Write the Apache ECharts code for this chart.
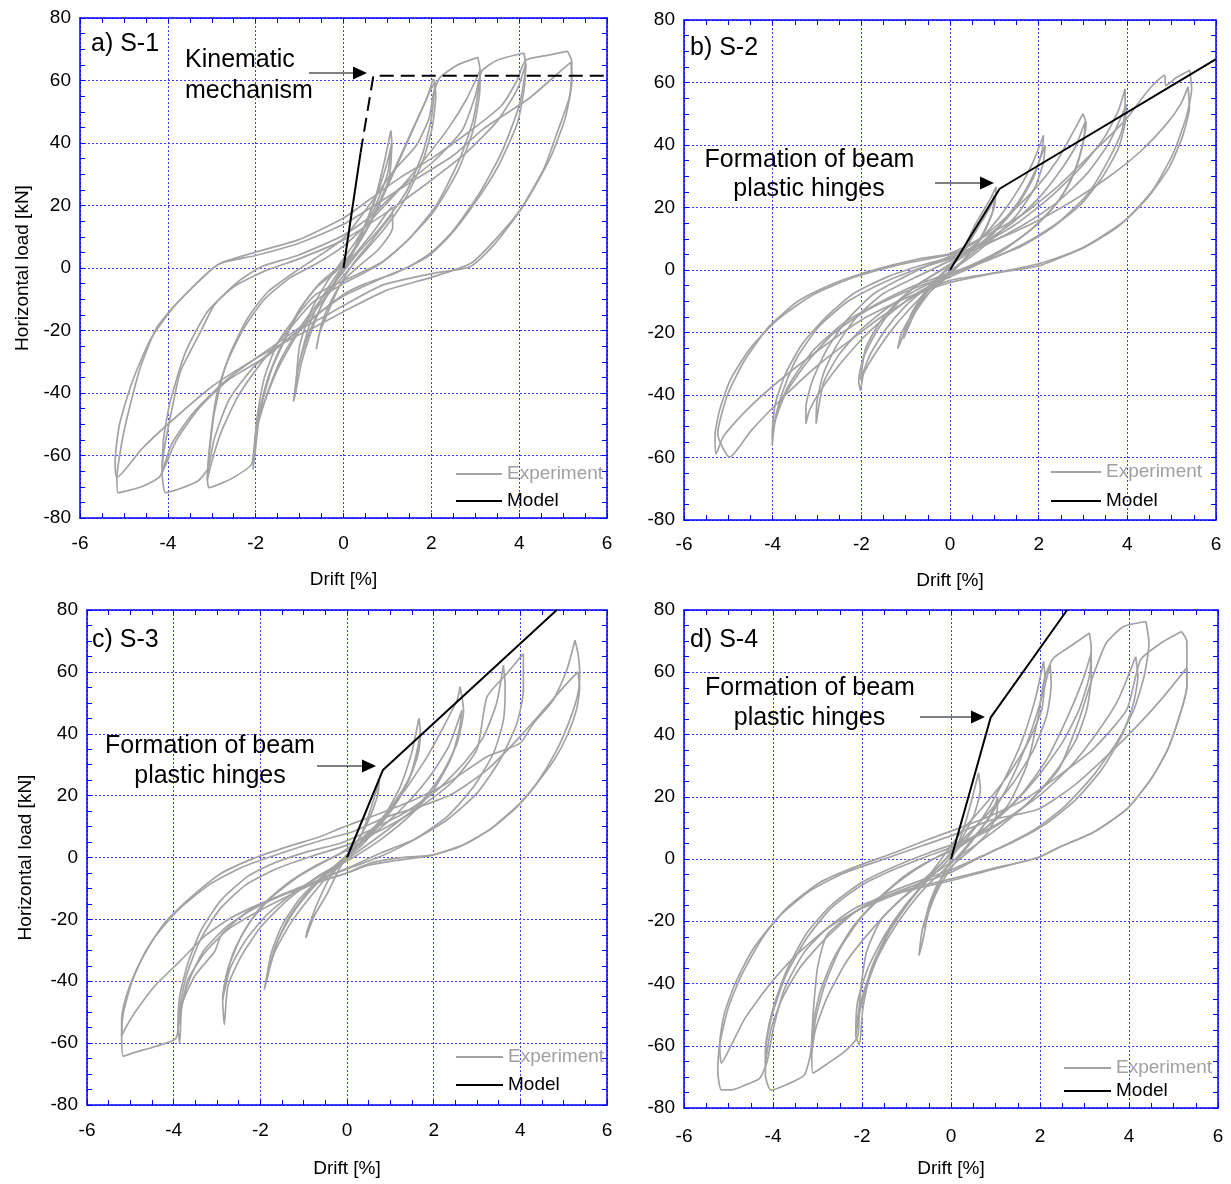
<!DOCTYPE html>
<html><head><meta charset="utf-8">
<script src="https://cdn.jsdelivr.net/npm/echarts@6/dist/echarts.min.js"></script>
<style>html,body{margin:0;padding:0;background:#fff}#c{width:1231px;height:1184px}</style>
</head><body><div id="c"></div>
<script>
// ---------------- axis ranges / tick labels ----------------
const X_TICKS = [-6, -4, -2, 0, 2, 4, 6];
const Y_TICKS = [-80, -60, -40, -20, 0, 20, 40, 60, 80];
const PANEL_LABELS = ['a) S-1', 'b) S-2', 'c) S-3', 'd) S-4'];

// ---------------- S-1 experiment loops [drift %, load kN] ----------------
const S1_L0 = [[0,0],[0.3,5],[0.7,12],[1.1,19.5],[1.12,13],[0.8,6],[0.3,0],[0,-4],[-0.3,-11],[-0.5,-18],[-0.62,-26],[-0.55,-21],[-0.35,-14],[-0.1,-6],[0.2,1],[0.6,8],[1.1,17]];
const S1_L1a = [[1.08,44],[1.1,40],[1.04,29],[0.74,18],[0.28,7],[0,1],[-0.41,-7.6],[-0.72,-16],[-0.95,-27],[-1.07,-35],[-1.1,-40.5],[-1.14,-42.7],[-1.03,-32],[-0.8,-21.4],[-0.49,-11.8],[-0.18,-4.4],[0.12,2],[0.43,11.6],[0.74,23.3],[0.93,34],[1.08,44]];
const S1_L1b = [[1.1,40],[1.0,30],[0.7,19],[0.3,9],[0,3],[-0.4,-5],[-0.75,-14],[-1.0,-25],[-1.1,-40.5],[-0.95,-30],[-0.7,-19],[-0.4,-9],[-0.1,-2],[0.2,5],[0.5,14],[0.8,25],[1.0,34],[1.1,40]];
const S1_L2a = [[2.04,60.5],[2.08,59.5],[2.0,47.8],[1.81,37],[1.43,24.4],[0.89,13.7],[0.35,5.2],[0,-1.2],[-0.49,-9.7],[-0.95,-18.2],[-1.41,-28.8],[-1.72,-39.5],[-1.95,-50],[-2.02,-59.7],[-2.06,-64.5],[-1.95,-48],[-1.72,-35.2],[-1.41,-24.6],[-1.03,-13.9],[-0.64,-6.5],[-0.18,-1.2],[0.12,3.1],[0.5,11.6],[0.89,23.3],[1.27,35],[1.58,44.6],[1.89,54.1],[2.04,60.5]];
const S1_L2b = [[2.08,59.5],[2.1,55],[2.02,45],[1.8,34],[1.4,22],[0.9,12],[0.4,4],[0,-2.5],[-0.5,-11],[-1.0,-20],[-1.45,-31],[-1.8,-43],[-2.0,-53],[-2.02,-59.7],[-1.9,-46],[-1.65,-33],[-1.3,-22],[-0.95,-12.5],[-0.55,-5],[-0.1,0.5],[0.25,6],[0.6,14],[1.0,26],[1.35,37],[1.7,48],[1.95,56],[2.08,59.5]];
const S1_L3a = [[3.06,67.4],[3.11,63.2],[2.96,47.8],[2.65,35],[2.11,20],[1.5,9.5],[0.89,2],[0.12,-3.3],[-0.64,-8.6],[-1.1,-16],[-1.5,-24],[-1.8,-35],[-1.97,-48],[-2.04,-58],[-2.1,-63],[-2.5,-67],[-2.8,-69],[-3.06,-70.3],[-3.1,-67.7],[-3.02,-53.3],[-2.87,-39.5],[-2.56,-26.7],[-2.18,-16],[-1.72,-7.6],[-1.1,-1.2],[-0.64,3.1],[0,9.5],[0.58,20],[1.12,30.7],[1.66,39.3],[1.95,48],[2.05,56],[2.2,61],[2.6,65],[3.06,67.4]];
const S1_L3b = [[3.11,63.2],[3.1,56],[2.95,44],[2.6,31],[2.05,18],[1.4,8],[0.8,1],[0,-5],[-0.7,-11],[-1.2,-19],[-1.8,-29],[-2.4,-41],[-2.8,-53],[-3.0,-62],[-3.1,-67.7],[-3.06,-60],[-2.95,-47],[-2.7,-32],[-2.3,-20],[-1.8,-10],[-1.2,-3],[-0.6,1.5],[0,7],[0.6,15],[1.2,24],[1.8,34],[2.4,45],[2.8,54],[3.11,63.2]];
const S1_L4a = [[4.11,68.8],[4.15,65],[4.0,52],[3.6,37],[3.1,24],[2.5,12],[2.0,5],[1.5,0.5],[1,-2.5],[0,-9],[-0.6,-15],[-1.2,-22],[-2,-31],[-2.6,-42],[-2.95,-55],[-3.08,-64],[-3.3,-68],[-3.7,-70.5],[-4.05,-71.9],[-4.13,-65.5],[-4.09,-58.6],[-3.86,-42],[-3.71,-33],[-3.25,-20.3],[-2.94,-11.8],[-2.4,-4.4],[-1.87,0.4],[-1.03,4.1],[0,10.5],[0.66,17],[1.27,25.4],[2.04,34],[2.7,44],[3.0,55],[3.15,63],[3.5,66.5],[4.11,68.8]];
const S1_L4b = [[4.15,65.3],[4.12,58],[3.95,46],[3.5,32],[2.95,20],[2.4,10],[1.9,3.5],[1.2,-1.5],[0.5,-5],[0,-8.5],[-0.8,-17],[-1.6,-25],[-2.6,-35],[-3.4,-46],[-3.9,-56],[-4.13,-65.5],[-4.1,-55],[-3.95,-43],[-3.6,-27],[-3.1,-14],[-2.5,-6],[-1.8,-1],[-1,3],[0,9],[0.9,17],[1.8,26],[2.8,37],[3.5,47],[3.95,57],[4.15,65.3]];
const S1_L5a = [[5.1,69.4],[5.2,66],[5.15,55],[4.87,43.5],[4.57,32],[4.0,18],[3.42,7.3],[2.88,0.4],[2.04,-1.7],[0.9,-5.4],[0,-12],[-0.5,-16],[-1.03,-20],[-1.72,-28],[-2.64,-36],[-3.3,-45],[-3.8,-55],[-4.05,-63],[-4.2,-67],[-4.6,-70],[-5.13,-71.9],[-5.16,-67],[-5.05,-56],[-4.93,-48],[-4.63,-32],[-4.25,-19],[-3.71,-10],[-2.87,1],[-2.02,5],[-1.03,9],[0,16],[0.6,22],[1.3,29],[2,35],[2.9,44],[3.6,52],[3.95,60],[4.15,66.5],[4.7,68.2],[5.1,69.4]];
const S1_L5b = [[5.18,65.9],[5.2,60],[5.05,48],[4.7,35],[4.1,20],[3.45,9],[2.9,1.5],[2,-3],[1,-7],[0,-14],[-0.6,-18.5],[-1.1,-22],[-2,-29],[-3,-38],[-4,-50],[-4.6,-58],[-5.16,-67],[-5.2,-62],[-5.1,-50],[-4.8,-36],[-4.4,-23],[-3.9,-13],[-3.2,-3],[-2.8,1.5],[-2,4],[-1,8],[0,14],[0.7,20],[1.66,28.6],[2.5,36],[3.19,44.6],[4.2,54],[4.7,60],[5.18,65.9]];
const S1_MODEL = [[0,0],[0.39,37]];
const S1_MODEL_DASH = [[0.39,37],[0.68,61.5],[6,61.5]];

// ---------------- S-2 experiment loops ----------------
const S2_L1a = [[1.04,26.6],[1.0,20.2],[0.74,11.6],[0.43,5.2],[0,-1.2],[-0.49,-6.5],[-0.8,-12.9],[-1.1,-20.4],[-1.18,-25.2],[-1.1,-22.5],[-0.87,-14],[-0.49,-5.4],[-0.1,0],[0.28,6.3],[0.58,14.8],[0.89,22.3],[1.04,26.6]];
const S2_L1b = [[1.0,24],[0.95,18],[0.7,10],[0.35,4],[0,-1.5],[-0.45,-7],[-0.8,-14],[-1.05,-22],[-0.95,-18],[-0.7,-11],[-0.35,-4],[0,1],[0.35,7],[0.65,14],[0.9,20],[1.0,24]];
const S2_L2a = [[2.11,43.1],[2.08,38.3],[1.89,29.8],[1.5,20.2],[1.04,12.7],[0.58,6.3],[0.12,1],[-0.34,-4.4],[-0.8,-10.8],[-1.26,-18.2],[-1.64,-25.7],[-1.95,-33.2],[-2.02,-38.5],[-2.06,-35.3],[-1.95,-27.9],[-1.64,-19.3],[-1.26,-11.8],[-0.8,-5.4],[-0.34,-1.2],[0.12,3.1],[0.66,9.5],[1.12,17],[1.58,26.6],[1.89,35.1],[2.11,43.1]];
const S2_L2b = [[2.15,40],[2.1,34],[1.9,26],[1.5,17.5],[1.0,10.5],[0.5,4.5],[0,-0.5],[-0.5,-5.5],[-1.0,-11.5],[-1.45,-19],[-1.8,-27],[-2.02,-35.3],[-1.9,-25],[-1.55,-16],[-1.1,-9],[-0.6,-3.5],[0,1.5],[0.6,7.5],[1.1,14],[1.55,22],[1.9,31],[2.15,40]];
const S2_L3a = [[3.0,50],[3.07,46.9],[2.96,38.3],[2.73,28.7],[2.34,20.2],[1.81,12.7],[1.2,6.3],[0.5,1],[0,-2.2],[-0.64,-6.5],[-1.26,-12.9],[-1.87,-20.4],[-2.41,-28.9],[-2.87,-37.5],[-3.17,-44.9],[-3.25,-49.2],[-3.25,-43.9],[-3.1,-35.3],[-2.79,-25.7],[-2.33,-16.1],[-1.72,-7.6],[-1.03,-2.2],[-0.41,2],[0.12,5.2],[0.74,10.6],[1.35,18],[1.96,26.6],[2.42,35.1],[2.8,44.7],[3.0,50]];
const S2_L3b = [[3.05,47.5],[3.02,42],[2.85,33],[2.5,23],[2,15],[1.4,8.5],[0.7,3],[0,-1.5],[-0.7,-6],[-1.4,-12],[-2,-19],[-2.5,-27],[-2.85,-36],[-3.02,-49.2],[-3.0,-42],[-2.85,-33],[-2.55,-24],[-2.1,-15],[-1.5,-7.5],[-0.8,-2.5],[0,3],[0.7,8.5],[1.4,15],[2,23],[2.5,32],[2.85,40],[3.05,47.5]];
const S2_L4a = [[3.95,58],[3.95,53.3],[3.88,44.7],[3.57,35.1],[3.11,24.4],[2.5,15.9],[1.81,9.5],[1.04,4.2],[0.28,0],[-0.34,-3.3],[-1.1,-7.6],[-1.87,-12.9],[-2.64,-20.4],[-3.25,-30],[-3.71,-39.6],[-3.94,-48.1],[-4.01,-56.1],[-4.01,-52.4],[-3.94,-42.8],[-3.71,-33.2],[-3.33,-23.6],[-2.79,-15],[-2.18,-7.6],[-1.41,-2.2],[-0.64,1.5],[0.05,4.2],[0.74,8.4],[1.5,14.8],[2.27,23.4],[2.96,33],[3.49,42.6],[3.8,51.1],[3.95,58]];
const S2_L4b = [[3.98,53],[3.95,47],[3.8,39],[3.45,30],[2.95,21],[2.3,13.5],[1.6,7.5],[0.8,3],[0,-1],[-0.8,-5],[-1.6,-10.5],[-2.4,-17],[-3.1,-26],[-3.6,-36],[-3.9,-45],[-4.0,-52.4],[-3.92,-46],[-3.75,-38],[-3.45,-28],[-2.95,-18],[-2.3,-10],[-1.5,-4],[-0.7,0.5],[0,3.5],[0.8,8],[1.6,14],[2.4,21.5],[3.1,31],[3.6,41],[3.98,53]];
const S2_L5a = [[5.41,63.9],[5.45,58],[5.33,49],[5.03,37.2],[4.57,25.5],[3.95,15.9],[3.03,7.4],[2.04,1.5],[0.89,-1.2],[0,-3.3],[-0.64,-7],[-1.1,-11],[-1.6,-15.5],[-2.02,-20],[-2.94,-30],[-3.71,-40],[-4.48,-51.3],[-4.97,-59.9],[-5.24,-52.4],[-5.01,-39.6],[-4.63,-28.9],[-4.09,-18.2],[-3.4,-9.7],[-2.64,-4.4],[-1.72,0],[-0.64,3.7],[0,5.3],[0.89,11.6],[1.66,18],[2.42,26.6],[3.19,37.2],[3.95,47.9],[4.5,58],[4.84,62.3],[4.87,59],[5.1,61.5],[5.41,63.9]];
const S2_L5b = [[5.37,58.6],[5.4,52],[5.25,43],[4.95,33],[4.45,23],[3.8,14],[3,7],[2,2],[1,-1],[0,-4],[-1,-9],[-2,-16],[-3,-26],[-3.9,-36],[-4.6,-45],[-5.1,-53],[-5.28,-58.8],[-5.3,-53],[-5.2,-45],[-4.95,-35],[-4.5,-25],[-3.9,-16],[-3.1,-8],[-2.2,-2.5],[-1.2,1.5],[0,5],[0.9,9],[1.8,14.5],[2.7,21.5],[3.6,30],[4.3,38],[4.9,47],[5.2,53],[5.37,58.6]];
const S2_MODEL = [[0,0],[1.12,26],[6,67.5]];

// ---------------- S-3 experiment loops ----------------
const S3_L1 = [[0.75,25],[0.7,19.7],[0.47,11.1],[0.16,3.5],[-0.15,-2.9],[-0.45,-11.5],[-0.76,-19],[-0.95,-26],[-0.91,-23.3],[-0.68,-14.7],[-0.38,-6.1],[0,0.3],[0.31,6.8],[0.54,15.4],[0.75,25]];
const S3_L2a = [[1.66,45],[1.69,41.2],[1.62,32.6],[1.39,24],[1,15.4],[0.54,7.8],[0.08,1.4],[-0.38,-5.1],[-0.84,-12.6],[-1.3,-21.2],[-1.68,-30.9],[-1.87,-40],[-1.91,-42.7],[-1.83,-38.4],[-1.68,-29.8],[-1.37,-20.1],[-0.99,-12.6],[-0.53,-6.1],[-0.07,-0.8],[0.39,4.6],[0.85,13.2],[1.23,22.9],[1.49,33.7],[1.66,45]];
const S3_L2b = [[1.7,40],[1.65,34],[1.45,26],[1.1,18],[0.65,10],[0.2,3.5],[-0.3,-3],[-0.8,-10],[-1.25,-18],[-1.6,-27],[-1.87,-40],[-1.75,-31],[-1.5,-22],[-1.1,-13.5],[-0.6,-6.5],[-0.1,-0.5],[0.4,5.5],[0.85,12],[1.2,19],[1.5,28],[1.7,40]];
const S3_L3a = [[2.61,55.2],[2.69,47.6],[2.54,36.9],[2.15,26.1],[1.62,16.5],[0.93,8.9],[0.31,2.5],[-0.15,-1.8],[-0.68,-6.1],[-1.37,-13.7],[-1.98,-22.3],[-2.44,-31.9],[-2.75,-41.6],[-2.83,-54],[-2.87,-45.9],[-2.75,-36.2],[-2.44,-25.5],[-1.98,-15.8],[-1.37,-8.3],[-0.76,-2.9],[-0.15,1.4],[0.39,6.8],[0.93,14.3],[1.39,22.9],[1.85,32.6],[2.23,42.3],[2.54,50.9],[2.61,55.2]];
const S3_L3b = [[2.65,47.6],[2.6,42],[2.4,32],[2.0,22],[1.45,13.5],[0.8,6],[0.2,0.5],[-0.5,-5],[-1.2,-11],[-1.85,-18.5],[-2.35,-27],[-2.7,-36],[-2.87,-45.9],[-2.8,-39],[-2.6,-30],[-2.25,-21],[-1.75,-13],[-1.1,-6],[-0.4,-0.5],[0.3,4.5],[0.9,11],[1.45,18.5],[1.95,27],[2.35,36],[2.65,47.6]];
const S3_L4a = [[3.61,62.2],[3.65,55.2],[3.61,44.4],[3.38,33.7],[2.92,22.9],[2.31,13.2],[1.54,5.7],[0.77,0.3],[0.16,-2.9],[-0.45,-6.1],[-1.22,-11.5],[-1.98,-16.9],[-2.75,-23.3],[-3.29,-30.9],[-3.67,-39.5],[-3.82,-49.1],[-3.86,-59.9],[-3.9,-55],[-3.86,-44.8],[-3.67,-34.1],[-3.36,-23.3],[-2.9,-13.7],[-2.29,-6.1],[-1.68,-1.8],[-0.91,1.9],[-0.15,4.6],[0.54,8.9],[1.31,14.3],[2.08,21.8],[2.69,30.4],[3.15,39],[3.45,49.8],[3.61,62.2]];
const S3_L4b = [[4.07,65.9],[4.07,54],[3.92,43.3],[3.53,31.5],[3.0,20.8],[2.31,12.2],[1.54,5.7],[0.77,1.4],[0,-3.5],[-0.7,-7.5],[-1.5,-12],[-2.3,-17.5],[-2.9,-25],[-3.05,-30.3],[-3.5,-38],[-3.8,-47],[-3.9,-55],[-3.85,-48],[-3.7,-38],[-3.4,-27],[-2.95,-17],[-2.35,-9],[-1.6,-3.5],[-0.8,0.5],[0,4],[0.8,9],[1.6,15.5],[2.4,24],[3.0,35],[3.23,51.9],[3.69,59.5],[4.07,65.9]];
const S3_L5a = [[5.26,70.2],[5.33,66],[5.37,59.9],[5.33,53],[5.14,44.4],[4.84,34.7],[4.38,24],[3.99,17.5],[3.38,10],[2.77,4.6],[1.99,0.9],[1.16,-0.2],[0.54,-1.8],[0,-5],[-0.61,-7.7],[-1.37,-11.5],[-2.14,-16.5],[-2.75,-22],[-3.3,-30],[-3.65,-40],[-3.85,-50],[-3.95,-58.5],[-4.4,-61],[-4.9,-63],[-5.16,-64.2],[-5.2,-57.7],[-5.16,-50.2],[-4.97,-40.5],[-4.67,-30.9],[-4.21,-21.2],[-3.67,-13.7],[-2.9,-5.1],[-2.14,-0.2],[-1.37,3.5],[-0.61,6.8],[-0.15,9.5],[0.16,11.1],[0.77,14.3],[1.54,18.6],[2.31,24],[3.23,32.6],[3.99,36.9],[4.3,43.3],[4.76,50.9],[5.07,60.5],[5.26,70.2]];
const S3_L5b = [[5.33,60],[5.37,55],[5.3,48],[5.1,40],[4.8,32],[4.3,22.5],[3.9,16],[3.3,9],[2.6,3.5],[1.9,0.5],[1.1,-1],[0.5,-2.5],[0,-5],[-0.61,-7.7],[-1.37,-11.5],[-2.14,-15.8],[-2.75,-20.1],[-3.29,-25.5],[-3.82,-33],[-4.44,-41.6],[-4.9,-50.2],[-5.13,-55.6],[-5.2,-57.7],[-5.2,-52],[-5.1,-45],[-4.85,-36],[-4.45,-26],[-3.9,-17],[-3.2,-9],[-2.4,-3],[-1.5,1.5],[-0.6,5.5],[0.16,8.5],[0.93,13.2],[1.69,16.5],[2.46,20.8],[3.23,28.3],[3.99,39],[4.6,48.7],[5.07,56.2],[5.33,60]];
const S3_MODEL = [[0,0],[0.83,28.3],[4.84,80]];

// ---------------- S-4 experiment loops ----------------
const S4_L1a = [[0.62,27.7],[0.66,22.4],[0.51,13.9],[0.2,5.3],[-0.11,-3.2],[-0.41,-12.8],[-0.64,-22.4],[-0.72,-31],[-0.64,-26.7],[-0.49,-16],[-0.26,-7.5],[0.05,1.1],[0.28,9.6],[0.47,19.2],[0.62,27.7]];
const S4_L1b = [[1.05,20],[1.02,14],[0.8,8],[0.45,3],[0,-2.5],[-0.3,-8],[-0.5,-15],[-0.6,-22],[-0.5,-17],[-0.3,-10],[0,-3],[0.35,3.5],[0.7,10],[0.95,16],[1.05,20]];
const S4_L2a = [[2.08,63.5],[2.11,58.7],[2.04,48],[1.73,37.4],[1.27,26.7],[0.74,17.1],[0.28,9.6],[-0.11,2.1],[-0.49,-5.3],[-0.95,-13.9],[-1.41,-23.5],[-1.79,-35.2],[-1.98,-48],[-2.06,-59.8],[-2.14,-56.6],[-2.1,-45.9],[-1.87,-35.2],[-1.49,-24.5],[-1.03,-14.9],[-0.57,-7.5],[-0.11,-1.1],[0.28,5.3],[0.74,13.9],[1.2,25.6],[1.58,37.4],[1.89,51.2],[2.08,63.5]];
const S4_L2b = [[2.23,62.4],[2.25,56],[2.15,46],[1.85,35],[1.4,24.5],[0.85,15],[0.35,7.5],[-0.1,0.5],[-0.55,-7],[-1.0,-15],[-1.45,-25],[-1.8,-37],[-2.05,-49],[-2.14,-56.6],[-2.05,-47],[-1.8,-36],[-1.4,-25],[-0.95,-15.5],[-0.5,-8],[0,-1.5],[0.4,5],[0.85,13],[1.3,24],[1.7,37],[2.0,50],[2.23,62.4]];
const S4_L3a = [[3.11,72.6],[3.15,68.3],[3.11,58.7],[2.88,48],[2.5,37.4],[1.96,26.7],[1.35,17.1],[0.74,9.6],[0.12,3.2],[-0.34,-3.2],[-0.95,-10.7],[-1.56,-19.2],[-1.9,-30],[-2.05,-45],[-2.1,-57],[-2.4,-62],[-2.8,-66],[-3.1,-68.8],[-3.13,-62.4],[-3.1,-53.4],[-2.94,-42.7],[-2.64,-32],[-2.18,-21.3],[-1.64,-12.8],[-1.03,-5.3],[-0.41,0],[0.12,3.2],[0.66,8.5],[1.27,17.1],[1.7,30],[1.95,45],[2.1,58],[2.3,64.5],[2.7,68.5],[3.11,72.6]];
const S4_L3b = [[3.15,66],[3.15,58],[3.05,48],[2.8,38],[2.35,28],[1.8,19],[1.2,11.5],[0.6,5],[0,-1],[-0.6,-7],[-1.2,-14],[-1.8,-23],[-2.35,-33],[-2.8,-45],[-3.05,-55],[-3.13,-62.4],[-3.05,-52],[-2.85,-41],[-2.5,-29],[-2.0,-18.5],[-1.4,-10],[-0.8,-3.5],[-0.2,1.5],[0.4,6],[1.0,12.5],[1.6,21],[2.15,32],[2.6,45],[2.95,57],[3.15,66]];
const S4_L4a = [[4.38,76.3],[4.45,69.4],[4.34,58.7],[4.11,48],[3.72,37.4],[3.19,26.7],[2.57,17.1],[1.89,9.6],[1.2,4.3],[0.58,0],[0,-4.3],[-0.64,-7.5],[-1.41,-11.7],[-2.18,-17.1],[-2.79,-24.5],[-3.0,-35],[-3.1,-50],[-3.15,-62],[-3.3,-69.5],[-3.7,-72.5],[-4.05,-74.2],[-4.17,-69.4],[-4.17,-61.9],[-4.02,-50.2],[-3.71,-37.4],[-3.25,-25.6],[-2.71,-16],[-2.02,-8.5],[-1.26,-3.2],[-0.49,1.1],[0.12,4.3],[0.89,9.6],[1.66,17.1],[2.42,28.8],[2.88,44.8],[3.19,58.7],[3.49,69.4],[3.88,74.7],[4.38,76.3]];
const S4_L4b = [[4.15,65],[4.2,58.7],[4.1,50],[3.85,40],[3.4,29],[2.8,19],[2.1,11],[1.4,5.5],[0.7,1],[0,-3.5],[-0.7,-7],[-1.5,-11.5],[-2.2,-17.5],[-2.85,-26],[-3.4,-35],[-3.8,-45],[-4.05,-55],[-4.17,-65.6],[-4.15,-58],[-4.0,-48],[-3.7,-36],[-3.25,-24],[-2.7,-15],[-2.0,-7.5],[-1.2,-2],[-0.4,2.5],[0.4,6.5],[1.2,12.5],[2.0,20.5],[2.7,30],[3.3,41],[3.75,51],[4.15,65]];
const S4_L5a = [[5.18,73.1],[5.3,70],[5.3,61.4],[5.3,55.5],[5.18,48],[4.87,35.2],[4.49,25.6],[3.95,16],[3.19,8.5],[2.42,3.7],[1.96,0.5],[0.89,-3.2],[0,-6.4],[-0.64,-8.5],[-1.41,-11.7],[-2.18,-16],[-2.79,-22.4],[-3.3,-30],[-3.75,-42],[-4.0,-55],[-4.13,-65],[-4.3,-70.5],[-4.6,-72.5],[-4.93,-74.2],[-5.16,-74.2],[-5.24,-68.3],[-5.2,-59.8],[-5.01,-48],[-4.71,-37.4],[-4.25,-25.6],[-3.71,-16],[-2.94,-7.5],[-2.18,-2.7],[-1.26,2.1],[-0.49,6.4],[0.12,9.6],[0.89,13.9],[1.66,19.2],[2.42,26.7],[3.19,35.2],[3.95,48],[4.26,64],[4.72,69.4],[5.18,73.1]];
const S4_L5b = [[5.3,61.4],[5.3,55.5],[5.18,48],[4.87,35.2],[4.49,25.6],[3.95,16],[3.19,8.5],[2.42,3.7],[1.96,0.5],[0.89,-3.5],[0,-7],[-1.1,-10.7],[-2.02,-16],[-2.79,-22.4],[-3.48,-30.9],[-4.09,-40.6],[-4.63,-51.2],[-5.01,-61.9],[-5.16,-65.6],[-5.2,-60],[-5.1,-50],[-4.85,-40],[-4.45,-29],[-3.9,-19],[-3.2,-10.5],[-2.4,-4.5],[-1.5,0],[-0.6,4.5],[0.1,8],[0.9,12.5],[1.96,16],[2.8,24],[3.57,34],[4.2,43],[4.72,51.2],[5.3,61.4]];
const S4_MODEL = [[0,0],[0.55,28],[0.89,45.4],[2.61,80]];

// ---------------- layout ----------------
const FONT = '"Liberation Sans", Arial, sans-serif';
const BLUE = '#0000ff';
const GRID_BLUE = '#3c3cff';
const GRAY = '#a3a3a3';
const PANELS = [
  {grid:{left:80,top:18,width:527,height:500}, exp:[S1_L0,S1_L1a,S1_L1b,S1_L2a,S1_L2b,S1_L3a,S1_L3b,S1_L4a,S1_L4b,S1_L5a,S1_L5b], model:S1_MODEL, dash:S1_MODEL_DASH, yName:true, lblMargin:16, xGap:52, legend:{left:456,top:464,w:46,gap:7}},
  {grid:{left:684,top:20,width:532,height:500}, exp:[S2_L1a,S2_L1b,S2_L2a,S2_L2b,S2_L3a,S2_L3b,S2_L4a,S2_L4b,S2_L5a,S2_L5b], model:S2_MODEL, yName:false, lblMargin:15, xGap:51, legend:{left:1051,top:462,w:50,gap:9}},
  {grid:{left:87,top:610,width:520,height:495}, exp:[S3_L1,S3_L2a,S3_L2b,S3_L3a,S3_L3b,S3_L4a,S3_L4b,S3_L5a,S3_L5b], model:S3_MODEL, yName:true, lblMargin:16, xGap:54, legend:{left:456,top:1047,w:47,gap:8}},
  {grid:{left:684,top:610,width:534,height:498}, exp:[S4_L1a,S4_L1b,S4_L2a,S4_L2b,S4_L3a,S4_L3b,S4_L4a,S4_L4b,S4_L5a,S4_L5b], model:S4_MODEL, yName:false, lblMargin:19, xGap:51, legend:{left:1064,top:1058,w:47,gap:3}}
];

const grids = [], xAxes = [], yAxes = [], series = [], legends = [];
const axLine = () => ({show:true, onZero:false, lineStyle:{color:BLUE, width:1.5}});
const tick = () => ({show:true, inside:true, length:5, lineStyle:{color:BLUE, width:1}});
const minor = () => ({show:true, splitNumber:4, length:5, lineStyle:{color:BLUE, width:1}});
const split = () => ({show:true, lineStyle:{color:GRID_BLUE, width:1, type:[2,2], opacity:1}});
const xr = () => ({min:X_TICKS[0], max:X_TICKS[X_TICKS.length-1], interval:X_TICKS[1]-X_TICKS[0]});
const yr = () => ({min:Y_TICKS[0], max:Y_TICKS[Y_TICKS.length-1], interval:Y_TICKS[1]-Y_TICKS[0]});

PANELS.forEach((p, g) => {
  grids.push(Object.assign({containLabel:false}, p.grid));
  xAxes.push(Object.assign({type:'value', gridIndex:g, position:'bottom', axisLine:axLine(), axisTick:tick(), minorTick:minor(), splitLine:split(),
    axisLabel:{color:'#000', fontSize:19, fontFamily:FONT, margin:p.lblMargin},
    name:'Drift [%]', nameLocation:'middle', nameGap:p.xGap, nameTextStyle:{color:'#000', fontSize:19, fontFamily:FONT}}, xr()));
  xAxes.push(Object.assign({type:'value', gridIndex:g, position:'top', axisLine:axLine(), axisTick:tick(), minorTick:minor(), splitLine:{show:false}, axisLabel:{show:false}}, xr()));
  yAxes.push(Object.assign({type:'value', gridIndex:g, position:'left', axisLine:axLine(), axisTick:tick(), minorTick:minor(), splitLine:split(),
    axisLabel:{color:'#000', fontSize:19, fontFamily:FONT, margin:9},
    name: p.yName ? 'Horizontal load [kN]' : '', nameLocation:'middle', nameGap: (g===0?48:52), nameTextStyle:{color:'#000', fontSize:19, fontFamily:FONT}}, yr()));
  yAxes.push(Object.assign({type:'value', gridIndex:g, position:'right', axisLine:axLine(), axisTick:tick(), minorTick:minor(), splitLine:{show:false}, axisLabel:{show:false}}, yr()));
  p.exp.forEach(loop => series.push({name:'Experiment', type:'line', xAxisIndex:2*g, yAxisIndex:2*g, data:loop, showSymbol:false, symbol:'none', smooth:0.2,
    lineStyle:{color:GRAY, width:1.7}, itemStyle:{color:GRAY}, silent:true, z:2}));
  series.push({name:'Model', type:'line', xAxisIndex:2*g, yAxisIndex:2*g, data:p.model, showSymbol:false, symbol:'none',
    lineStyle:{color:'#000', width:2}, itemStyle:{color:'#000'}, silent:true, z:4});
  if (p.dash) series.push({name:'Model', type:'line', xAxisIndex:2*g, yAxisIndex:2*g, data:p.dash, showSymbol:false, symbol:'none',
    lineStyle:{color:'#000', width:2, type:[14,7]}, itemStyle:{color:'#000'}, silent:true, z:4});
  legends.push({left:p.legend.left, top:p.legend.top, orient:'vertical', padding:0, itemWidth:p.legend.w, itemHeight:2, itemGap:p.legend.gap,
    icon:'rect', selectedMode:false, textStyle:{fontSize:19, fontFamily:FONT, lineHeight:20},
    data:[{name:'Experiment', textStyle:{color:'#a0a0a0'}}, {name:'Model', textStyle:{color:'#000'}}]});
});

function txt(s, x, y, align){ return {type:'text', x:x, y:y, z:10, style:{text:s, fill:'#000', font:'25px ' + FONT, align:align||'left', verticalAlign:'middle'}}; }
function arrow(x1, x2, y, shaftColor, w){
  return [
    {type:'line', z:10, shape:{x1:x1, y1:y, x2:x2-12, y2:y}, style:{stroke:shaftColor, lineWidth:w}},
    {type:'polygon', z:10, shape:{points:[[x2-14,y-6.5],[x2,y],[x2-14,y+6.5]]}, style:{fill:'#000'}}
  ];
}
const graphic = [
  txt(PANEL_LABELS[0], 91, 44), txt(PANEL_LABELS[1], 690, 48), txt(PANEL_LABELS[2], 92, 640), txt(PANEL_LABELS[3], 690, 640),
  txt('Kinematic', 185, 60), txt('mechanism', 185, 91),
  ...arrow(309, 367, 73, '#808080', 2),
  txt('Formation of beam', 809.5, 160.5, 'center'), txt('plastic hinges', 809, 189.5, 'center'),
  ...arrow(935, 994, 183, '#000', 1),
  txt('Formation of beam', 210, 746, 'center'), txt('plastic hinges', 210, 776, 'center'),
  ...arrow(317, 376, 766, '#000', 1),
  txt('Formation of beam', 810, 688, 'center'), txt('plastic hinges', 809.5, 718.5, 'center'),
  ...arrow(920, 985, 717, '#000', 1)
];

const chart = echarts.init(document.getElementById('c'), null, {renderer:'canvas'});
chart.setOption({animation:false, backgroundColor:'#fff', grid:grids, xAxis:xAxes, yAxis:yAxes, series:series, legend:legends, graphic:graphic});
</script></body></html>
